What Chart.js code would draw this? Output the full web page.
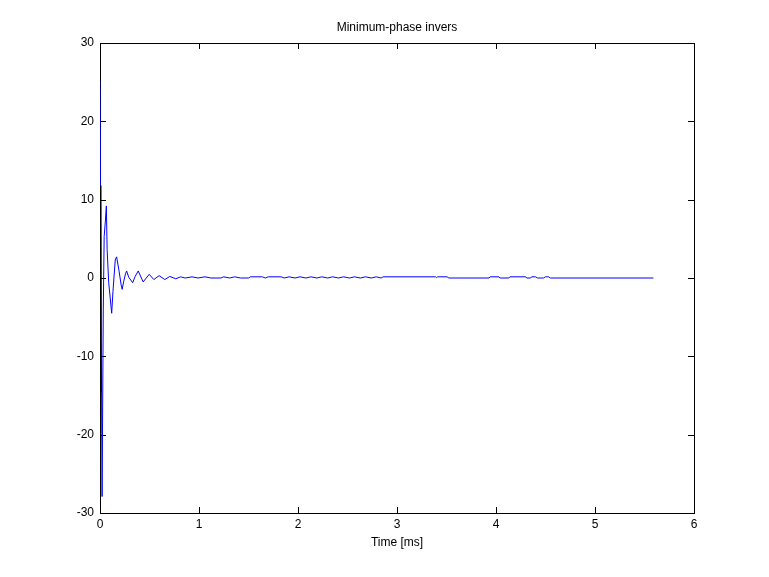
<!DOCTYPE html>
<html>
<head>
<meta charset="utf-8">
<script src="https://cdn.jsdelivr.net/npm/chart.js@4.4.1/dist/chart.umd.min.js"></script>
<style>
  body { margin: 0; background: #fff; }
  #plot { display: block; }
</style>
</head>
<body>
<canvas id="plot" width="769" height="577"></canvas>
<script>
// time axis in ms and the minimum-phase inverse response
const timeMs = [
  0, 0.021, 0.033, 0.042, 0.055, 0.064, 0.072, 0.088, 0.118, 0.131,
  0.154, 0.168, 0.191, 0.214, 0.224, 0.240, 0.259, 0.269, 0.290, 0.330,
  0.355, 0.386, 0.436, 0.497, 0.544, 0.597, 0.655, 0.705, 0.765, 0.813,
  0.86, 0.93, 0.99, 1.06, 1.12, 1.22, 1.25, 1.31, 1.36, 1.42,
  1.50, 1.52, 1.64, 1.67, 1.70, 1.83, 1.86, 1.91, 1.97, 2.02,
  2.08, 2.13, 2.19, 2.24, 2.30, 2.35, 2.41, 2.46, 2.52, 2.57,
  2.63, 2.68, 2.74, 2.79, 2.84, 2.86, 3.39, 3.40, 3.41, 3.51,
  3.52, 3.93, 3.94, 4.03, 4.04, 4.13, 4.14, 4.30, 4.31, 4.35,
  4.36, 4.40, 4.42, 4.48, 4.50, 4.53, 4.55, 5.59
];
const inverse = [
  25.1, -27.9, -4.2, 5.3, 7.4, 9.2, 3.6, -0.6, -4.5, -1.7,
  2.3, 2.7, 1.0, -0.9, -1.45, -0.4, 0.6, 0.9, 0.1, -0.6,
  0.2, 0.9, -0.5, 0.47, -0.2, 0.3, -0.2, 0.2, -0.1, 0.15,
  0.0, 0.15, 0.0, 0.15, 0.0, 0.0, 0.15, 0.0, 0.15, 0.0,
  0.0, 0.15, 0.15, 0.0, 0.15, 0.15, 0.0, 0.15, 0.0, 0.15,
  0.0, 0.15, 0.0, 0.15, 0.0, 0.15, 0.0, 0.15, 0.0, 0.15,
  0.0, 0.15, 0.0, 0.15, 0.0, 0.15, 0.15, 0.05, 0.15, 0.15,
  0.0, 0.0, 0.15, 0.15, 0.0, 0.0, 0.15, 0.15, 0.0, 0.0,
  0.15, 0.15, 0.0, 0.0, 0.15, 0.15, 0.0, 0.0
];

// short black trace right at the start
const spikeTime = [0.004, 0.008];
const spikeValues = [11.8, -14.6];

const xTicks = [0, 1, 2, 3, 4, 5, 6];
const yTicks = [-30, -20, -10, 0, 10, 20, 30];

const titleText = 'Minimum-phase invers';
const xLabel = 'Time [ms]';

function toPoints(xs, ys) {
  return xs.map((t, i) => ({ x: t, y: ys[i] }));
}

// black box with small inward ticks on all four sides, like matlab
const frame = {
  id: 'frame',
  beforeDatasetsDraw(chart) {
    const { ctx, chartArea: a, scales: { x, y } } = chart;
    const len = 6;
    ctx.save();
    ctx.strokeStyle = '#000';
    ctx.lineWidth = 1;
    ctx.strokeRect(a.left + 0.5, a.top + 0.5, a.right - a.left, a.bottom - a.top);
    ctx.beginPath();
    xTicks.forEach(v => {
      const px = Math.round(x.getPixelForValue(v)) + 0.5;
      ctx.moveTo(px, a.bottom);
      ctx.lineTo(px, a.bottom - len);
      ctx.moveTo(px, a.top);
      ctx.lineTo(px, a.top + len);
    });
    yTicks.forEach(v => {
      const py = Math.round(y.getPixelForValue(v)) + 0.5;
      ctx.moveTo(a.left, py);
      ctx.lineTo(a.left + len, py);
      ctx.moveTo(a.right, py);
      ctx.lineTo(a.right - len, py);
    });
    ctx.stroke();
    ctx.restore();
  }
};

const font = { family: 'Liberation Sans, Arial, sans-serif', size: 12 };

new Chart(document.getElementById('plot'), {
  type: 'line',
  data: {
    datasets: [
      {
        data: toPoints(spikeTime, spikeValues),
        borderColor: '#000000',
        borderWidth: 1,
        pointRadius: 0,
        order: 0
      },
      {
        data: toPoints(timeMs, inverse),
        borderColor: '#0000ff',
        borderWidth: 1,
        pointRadius: 0,
        order: 1
      }
    ]
  },
  options: {
    responsive: false,
    animation: false,
    layout: { padding: { left: 0, right: 75, top: 0, bottom: 0 } },
    plugins: {
      legend: { display: false },
      tooltip: { enabled: false },
      title: {
        display: true,
        text: titleText,
        fullSize: false,
        color: '#000',
        font: { family: font.family, size: 12, weight: 'normal' },
        padding: { top: 20, bottom: 8.6 }
      }
    },
    scales: {
      x: {
        type: 'linear',
        min: 0,
        max: 6,
        border: { display: false },
        grid: { display: false, drawTicks: false },
        afterBuildTicks: s => { s.ticks = xTicks.map(v => ({ value: v })); },
        ticks: { color: '#000', font: font, padding: 4, maxRotation: 0 },
        title: {
          display: true,
          text: xLabel,
          color: '#000',
          font: font,
          padding: { top: 0, bottom: 26.8 }
        },
        afterFit: s => { s.height = 64; }
      },
      y: {
        type: 'linear',
        min: -30,
        max: 30,
        border: { display: false },
        grid: { display: false, drawTicks: false },
        afterBuildTicks: s => { s.ticks = yTicks.map(v => ({ value: v })); },
        ticks: { color: '#000', font: font, padding: 6 },
        afterFit: s => { s.width = 100; }
      }
    }
  },
  plugins: [frame]
});
</script>
</body>
</html>
